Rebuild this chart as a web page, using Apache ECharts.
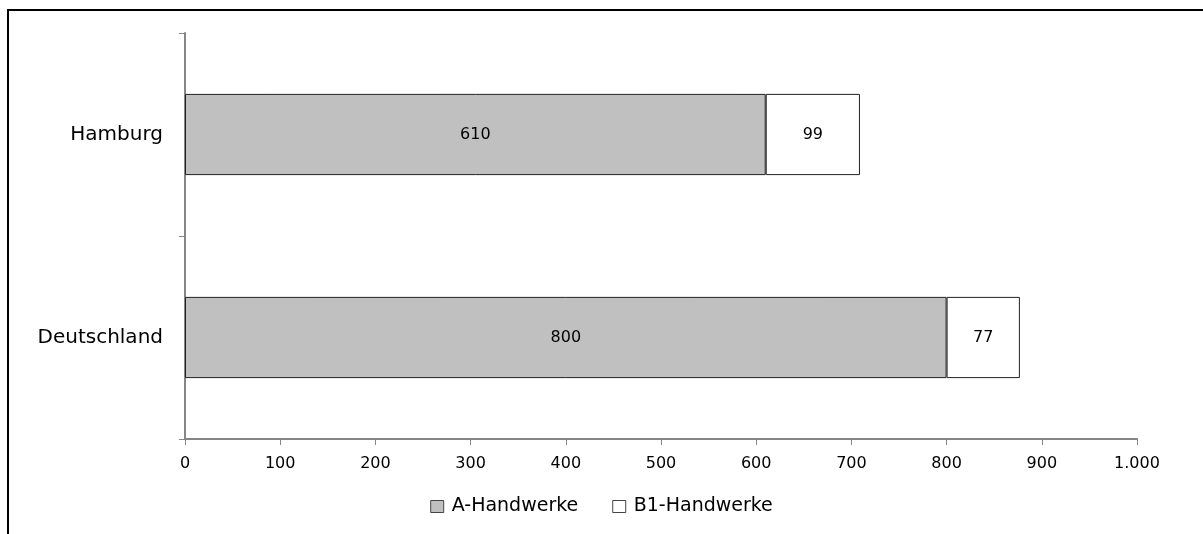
<!DOCTYPE html>
<html>
<head>
<meta charset="utf-8">
<script src="https://cdn.jsdelivr.net/npm/echarts@6/dist/echarts.min.js"></script>
<style>
    html, body { margin: 0; padding: 0; background: #fff; }
    #chart { width: 1203px; height: 534px; }
</style>
</head>
<body>
<div id="chart"></div>
<script>
// Data
const categories = ['Deutschland', 'Hamburg'];
const aHandwerke = [800, 610];
const b1Handwerke = [77, 99];
const seriesNames = ['A-Handwerke', 'B1-Handwerke'];

const fontFamily = '"DejaVu Sans", Verdana, sans-serif';

// German number format: 1.000
function formatNumber(v) {
    return String(v).replace(/\B(?=(\d{3})+(?!\d))/g, '.');
}

const chart = echarts.init(document.getElementById('chart'));

const option = {
    backgroundColor: '#fff',
    animation: false,
    // outer frame, open on the right and bottom like the reference crop
    graphic: [{
        type: 'rect',
        shape: { x: 8, y: 10, width: 1300, height: 600 },
        style: { fill: 'none', stroke: '#000', lineWidth: 2 }
    }],
    legend: {
        data: seriesNames,
        bottom: 13,
        left: 'center',
        itemWidth: 13,
        itemHeight: 12,
        itemGap: 34,
        icon: 'rect',
        itemStyle: { borderWidth: 1, borderColor: '#444' },
        textStyle: { color: '#000', fontSize: 19, fontFamily: fontFamily, padding: [0, 0, 0, 3] }
    },
    grid: {
        left: 185,
        right: 66,
        top: 33,
        bottom: 95,
        containLabel: false
    },
    xAxis: {
        type: 'value',
        min: 0,
        max: 1000,
        interval: 100,
        axisLine: { show: true, lineStyle: { color: '#868686', width: 2 } },
        axisTick: { show: true, length: 6, lineStyle: { color: '#868686' } },
        axisLabel: {
            color: '#000',
            fontSize: 16,
            fontFamily: fontFamily,
            margin: 17,
            formatter: formatNumber
        },
        splitLine: { show: false }
    },
    yAxis: {
        type: 'category',
        data: categories,
        axisLine: { show: true, lineStyle: { color: '#868686', width: 2 } },
        axisTick: { show: true, length: 6, lineStyle: { color: '#868686' } },
        axisLabel: {
            color: '#000',
            fontSize: 20,
            fontFamily: fontFamily,
            margin: 22
        }
    },
    series: [
        {
            name: seriesNames[0],
            type: 'bar',
            stack: 'total',
            data: aHandwerke,
            barWidth: '40%',
            itemStyle: { color: '#c0c0c0', borderColor: '#222', borderWidth: 1 },
            label: {
                show: true,
                position: 'inside',
                color: '#000',
                fontSize: 16,
                fontFamily: fontFamily
            }
        },
        {
            name: seriesNames[1],
            type: 'bar',
            stack: 'total',
            data: b1Handwerke,
            barWidth: '40%',
            itemStyle: { color: '#ffffff', borderColor: '#222', borderWidth: 1 },
            label: {
                show: true,
                position: 'inside',
                color: '#000',
                fontSize: 16,
                fontFamily: fontFamily
            }
        }
    ]
};

chart.setOption(option);
</script>
</body>
</html>
